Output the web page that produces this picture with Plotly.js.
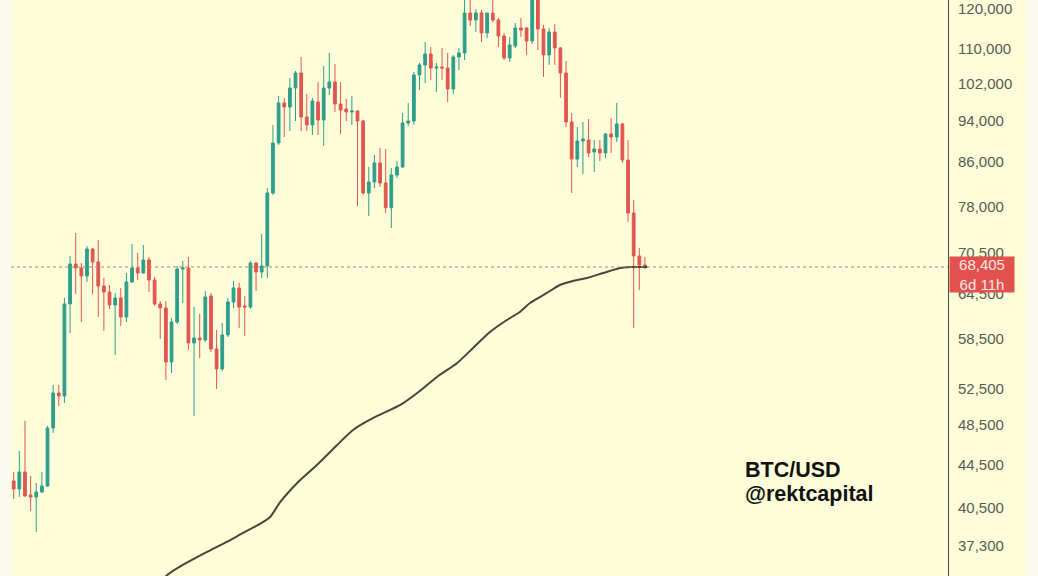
<!DOCTYPE html>
<html>
<head>
<meta charset="utf-8">
<script src="https://cdn.plot.ly/plotly-3.0.1.min.js"></script>
<style>
  html, body { margin:0; padding:0; background:#fafaf1; width:1038px; height:576px; overflow:hidden; }
  #chart { position:absolute; left:11px; top:0; width:1016px; height:576px; }
</style>
</head>
<body>
<div id="chart"></div>
<script>
// Weekly BTC/USD candles (index 1 = first visible week)
const open = [
42916, 42175, 43766, 41627, 41445, 41900, 42451, 48166, 51985, 51646,
63109, 68853, 68256, 67080, 71139, 69153, 65634, 64779, 62972, 63937,
61348, 66206, 68256, 67518, 69453, 66492, 63109, 62560, 55618, 60681,
68106, 68256, 57967, 58603, 58345, 64217, 57214, 54774, 58988, 63383,
65345, 62835, 62698, 69003, 67664, 68556, 80373, 89623, 97783, 96935,
101030, 104389, 94846, 93208, 97995, 94223, 101030, 102359, 97571, 96510,
95883, 96090, 94016, 80373, 82321, 85801, 82143, 77835, 83588, 85056,
93614, 94016, 103935, 106226, 108800, 105529, 105760, 105529, 100809, 108090,
109036, 118966, 117158, 118966, 113893, 118966, 117158, 113151, 107854, 110712,
115138, 115138, 111921, 123500, 114886, 108563, 114140, 110230, 104389, 93817,
86549, 90011, 90205, 87881, 88455, 87691, 91397, 90801, 93411, 86359,
76945, 70065, 68703
];
const high = [
43766, 45814, 48908, 43386, 42730, 43766, 48378, 52900, 52900, 63937,
70065, 73664, 69003, 71610, 71295, 72546, 66788, 65777, 64639, 65345,
67518, 71922, 70524, 71766, 69912, 66934, 63520, 63520, 61214, 68556,
69303, 69912, 62698, 61750, 64919, 64639, 59630, 60550, 63937, 66349,
66063, 64219, 69303, 69153, 73504, 81251, 93208, 99285, 98853, 103255,
104841, 108090, 99719, 98853, 102359, 105995, 109036, 106457, 102359, 98636,
99285, 96298, 94223, 85057, 87311, 88649, 88455, 84870, 86173, 95676,
97783, 104615, 106688, 111679, 110472, 106688, 110230, 109036, 108563, 110230,
123200, 123100, 120000, 119739, 118966, 124400, 117674, 113893, 112904, 116402,
117674, 115390, 125600, 126200, 115896, 115138, 116150, 110472, 107150, 95676,
92801, 93817, 94431, 90205, 90205, 91595, 94638, 97783, 93614, 90205,
79152, 71295, 69912
];
const low = [
41267, 41449, 41445, 40202, 38405, 41809, 42358, 47649, 50535, 50866,
59245, 64499, 60681, 66206, 64499, 61348, 59502, 62423, 56473, 60157,
60681, 66063, 66492, 67372, 64779, 62835, 58474, 53476, 54300, 60419,
63246, 57088, 49446, 56104, 58093, 56842, 52439, 54536, 58731, 62560,
59892, 58860, 62423, 64919, 66788, 66788, 80025, 89235, 90801, 91993,
94020, 91993, 91993, 91198, 91198, 89041, 99502, 95883, 91397, 94020,
93208, 78126, 80025, 76445, 81251, 81431, 76945, 74470, 83041, 84870,
93005, 93208, 100587, 102137, 102803, 100153, 102803, 97995, 99719, 105067,
107381, 115644, 114140, 111679, 112657, 116654, 110472, 107381, 106919, 110230,
112904, 108563, 111195, 109746, 103482, 106226, 106226, 98853, 92801, 80373,
85057, 83770, 86929, 84134, 86173, 86739, 87691, 89817, 85801, 75451,
59892, 65059, 68106
];
const close = [
42175, 43766, 41540, 41445, 41900, 42451, 48166, 51985, 51646, 63109,
68853, 68256, 67080, 71139, 69153, 65634, 64779, 62972, 63937, 61348,
66206, 68256, 67518, 69453, 66492, 63109, 62560, 55618, 60681, 68106,
68256, 57967, 58603, 58345, 64077, 57214, 54774, 58988, 63383, 65345,
62698, 62698, 69003, 67664, 68556, 80373, 89623, 97783, 96935, 101030,
104389, 94846, 93208, 98207, 94223, 101030, 102359, 97571, 96298, 95883,
96090, 94016, 80373, 82321, 85801, 82143, 77835, 83588, 85056, 93614,
94016, 103935, 106226, 108800, 105529, 105760, 105529, 100809, 108090, 109036,
118966, 117158, 118966, 113893, 118966, 117158, 113151, 107854, 110954, 115138,
114634, 111921, 123500, 114886, 108563, 114140, 110230, 104389, 93817, 86549,
90011, 90404, 87691, 88455, 87691, 91397, 90801, 93411, 86359, 76945,
70065, 68703, 68405
];
const weekIndex = open.map((_, i) => i + 1);

// Moving average line, read at candle positions
const maX = [27, 28.2, 31.0, 35.3, 38.8, 41.7, 44.7, 46.5, 48.3, 51.3, 54.8, 58.4, 61.2, 64.8, 69.6, 72.6, 76.1, 79.7, 82.5, 85.5, 88.5, 90.8, 92.6, 95.6, 97.9, 100.2, 102.7, 105.6, 108.6, 110.4, 113.4];
const maY = [34400, 34950, 35744, 36765, 37574, 38322, 39080, 39680, 40998, 42730, 44440, 46419, 47958, 49230, 50645, 51985, 53830, 55498, 57340, 59373, 60943, 62018, 63246, 64639, 65775, 66349, 66785, 67518, 68256, 68400, 68405];

// Price axis labels
const tickVals = [120000, 110000, 102000, 94000, 86000, 78000, 70500, 64500, 58500, 52500, 48500, 44500, 40500, 37300];
const tickText = ["120,000", "110,000", "102,000", "94,000", "86,000", "78,000", "70,500", "64,500", "58,500", "52,500", "48,500", "44,500", "40,500", "37,300"];

const lastPrice = 68405;
const lastLabel = "68,405";
const countdown = "6d 11h";

const GREEN = "#2e9e8c";
const RED = "#e05651";
const FONT = "Liberation Sans, Arial, sans-serif";

const traces = [
  {
    type: "candlestick",
    x: weekIndex, open: open, high: high, low: low, close: close,
    increasing: { line: { color: GREEN, width: 1 }, fillcolor: GREEN },
    decreasing: { line: { color: RED, width: 1 }, fillcolor: RED },
    whiskerwidth: 0,
    hoverinfo: "skip",
    showlegend: false
  },
  {
    type: "scatter", mode: "lines",
    x: maX, y: maY,
    line: { color: "#46463a", width: 2, shape: "spline", smoothing: 0.6 },
    hoverinfo: "skip", showlegend: false
  }
];

const layout = {
  width: 1016, height: 576,
  margin: { l: 0, r: 79, t: 0, b: 0, pad: 0 },
  paper_bgcolor: "#fdfdd9",
  plot_bgcolor: "#fdfdd9",
  boxgap: 0.3,
  showlegend: false,
  xaxis: {
    range: [0.521, 166.77],
    showgrid: false, zeroline: false, showline: false,
    showticklabels: false, ticks: "",
    rangeslider: { visible: false },
    fixedrange: true
  },
  yaxis: {
    type: "log",
    side: "right",
    range: [4.5427, 5.0877],
    tickvals: tickVals, ticktext: tickText,
    showgrid: false, zeroline: false,
    showline: true, linecolor: "#4a4a44", linewidth: 1,
    ticks: "outside", ticklen: 6, tickcolor: "rgba(0,0,0,0)",
    tickfont: { family: FONT, size: 15, color: "#5a5a55" },
    fixedrange: true
  },
  shapes: [
    {
      type: "line", xref: "paper", yref: "y",
      x0: 0, x1: 1, y0: lastPrice, y1: lastPrice,
      line: { color: "#a88a7a", width: 1, dash: "dot" }
    }
  ],
  annotations: [
    {
      xref: "paper", yref: "y", x: 1.001, y: Math.log10(lastPrice),
      xanchor: "left", yanchor: "middle", yshift: -8,
      text: lastLabel + "<br>" + countdown,
      showarrow: false, align: "center",
      bgcolor: "#e2514d", borderpad: 2,
      width: 60, height: 31,
      font: { family: FONT, size: 15, color: "#fde8e6" }
    },
    {
      xref: "paper", yref: "paper", x: 0.7815, y: 0.184,
      xanchor: "left", yanchor: "middle",
      text: "<b>BTC/USD</b>", showarrow: false,
      font: { family: FONT, size: 21.5, color: "#111111" }
    },
    {
      xref: "paper", yref: "paper", x: 0.7815, y: 0.1424,
      xanchor: "left", yanchor: "middle",
      text: "<b>@rektcapital</b>", showarrow: false,
      font: { family: FONT, size: 21.5, color: "#111111" }
    }
  ]
};

Plotly.newPlot("chart", traces, layout, { staticPlot: true, displayModeBar: false });
</script>
</body>
</html>
